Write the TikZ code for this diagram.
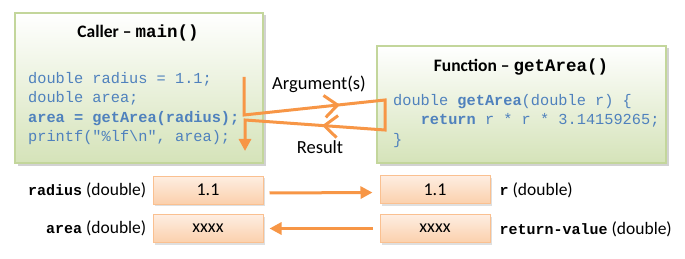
\documentclass[tikz,border=0pt]{standalone}
\usepackage{fontspec}
\setmainfont{Carlito}
\setmonofont{Liberation Mono}
\usetikzlibrary{arrows.meta,positioning,decorations.markings,shadows}
\definecolor{codeblue}{RGB}{79,129,189}
\definecolor{boxgreen}{RGB}{213,227,185}
\definecolor{boxedge}{RGB}{195,214,155}
\definecolor{flow}{RGB}{247,150,70}
\definecolor{peachtop}{RGB}{254,238,226}
\definecolor{peachbot}{RGB}{251,208,172}
\definecolor{peachedge}{RGB}{250,192,144}
\newcommand{\vname}[1]{{\fontsize{15}{18}\selectfont\ttfamily\bfseries #1}}
\tikzset{
  funcbox/.style   = {draw=boxedge, line width=1.2pt, top color=white, bottom color=boxgreen,
                      drop shadow={shadow xshift=2.5pt, shadow yshift=-2.5pt, fill=black!35},
                      inner sep=0pt},
  valbox/.style    = {draw=peachedge, line width=1pt, top color=peachtop, bottom color=peachbot,
                      drop shadow={shadow xshift=2pt, shadow yshift=-2pt, fill=black!25},
                      minimum width=110pt, minimum height=28pt, inner sep=0pt,
                      font=\fontsize{18}{21}\selectfont},
  titletext/.style = {font=\fontsize{17.5}{21}\selectfont\bfseries},
  code/.style      = {font=\fontsize{15.3}{19.5}\selectfont\ttfamily, text=codeblue,
                      align=left, inner sep=0pt},
  flowtext/.style  = {font=\fontsize{18.5}{22}\selectfont},
  vartext/.style   = {font=\fontsize{17.5}{20}\selectfont, inner sep=0pt},
  flowline/.style  = {draw=flow, line width=3pt, line join=miter},
  flowtip/.style   = {-{Triangle[length=12pt,width=12pt]}},
  barb at/.style   = {postaction={decorate}, decoration={markings,
                      mark=at position #1 with {\arrow[flow,line width=3pt]{Straight Barb[length=13pt,width=22pt]}}}},
}
\begin{document}
\begin{tikzpicture}[x=1pt,y=-1pt]
  \useasboundingbox (0,0) rectangle (685,259);

  % caller side
  \node[funcbox, minimum width=248pt, minimum height=150pt] (caller) at (139,88) {};
  \node[titletext] (callertitle) at (138,33) {Caller -- \texttt{main()}};
  \node[code, anchor=west] (callercode) at (28,108.5)
    {double radius = 1.1;\\
     double area;\\
     \textbf{area = getArea(radius);}\\
     printf("\%lf\textbackslash n", area);};

  % function side
  \node[funcbox, minimum width=289pt, minimum height=117pt] (func) at (521.5,104.5) {};
  \node[titletext] (functitle) at (521,67) {Function -- \texttt{getArea()}};
  \node[code, anchor=west] (funccode) at (393,121)
    {double \textbf{getArea}(double r) \{\\
     \phantom{ret}\textbf{return} r * r * 3.14159265;\\
     \}};

  % call and return path
  \coordinate (argtop)  at (244,77);
  \coordinate (argbend) at (244,115);
  \coordinate (functop) at (385,100);
  \coordinate (funcbot) at (385,130);
  \coordinate (resbend) at (245,120);
  \coordinate (resend)  at (245,151);
  \draw[flowline, flowtip] (argtop) -- (argbend) -- (functop) -- (funcbot) -- (resbend) -- (resend);
  \path[flowline, draw=none, barb at=0.68] (argbend) -- (functop);
  \path[flowline, draw=none, barb at=0.45] (funcbot) -- (resbend);
  \node[flowtext] (arglabel) at (319,84) {Argument(s)};
  \node[flowtext] (reslabel) at (320,147) {Result};

  % variables
  \node[valbox] (radius) at (208,190) {1.1};
  \node[valbox] (area) at (208,228.5) {xxxx};
  \node[valbox] (rpar) at (435,189.5) {1.1};
  \node[valbox] (retval) at (435,228.5) {xxxx};
  \node[vartext, left=6pt of radius] (radiuslabel) {\vname{radius} (double)};
  \node[vartext, left=6pt of area] (arealabel) {\vname{area} (double)};
  \node[vartext, right=9pt of rpar, yshift=-1pt] (rlabel) {\vname{r} (double)};
  \node[vartext, right=9pt of retval, yshift=-1pt] (retlabel) {\vname{return-value} (double)};

  \draw[flowline, flowtip, shorten <=6pt, shorten >=7pt]
    ([yshift=-3pt]radius.east) -- ([yshift=-3pt]rpar.west);
  \draw[flowline, flowtip, shorten <=7pt, shorten >=6pt] (retval.west) -- (area.east);
\end{tikzpicture}
\end{document}
